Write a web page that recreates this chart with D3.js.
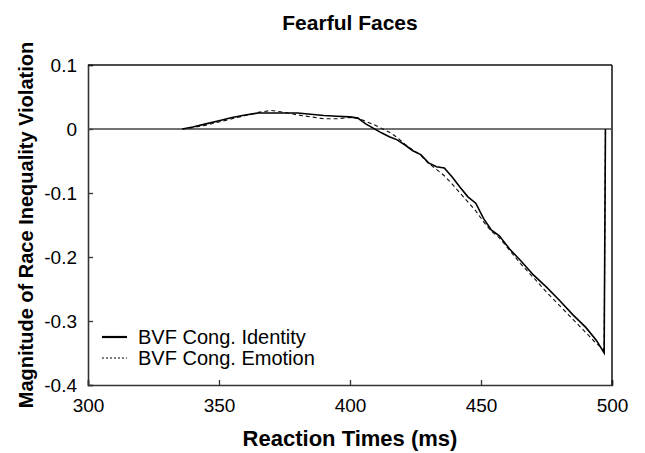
<!DOCTYPE html>
<html>
<head>
<meta charset="utf-8">
<script src="https://cdn.jsdelivr.net/npm/d3@7"></script>
<style>
  body { margin: 0; background: #fff; }
  svg text { font-family: "Liberation Sans", Arial, sans-serif; fill: #000; }
</style>
</head>
<body>
<div id="chart"></div>
<script>
//Canvas dimensions and margins
var width = 645,
    height = 453;

var margin = {
    top: 65,
    bottom: 68,
    left: 88,
    right: 33
};

//Data (reaction time bins in ms)
var times = [336, 340, 345, 350, 355, 360, 365, 370, 375, 380, 385, 390, 395, 400, 403, 406,
             409, 412, 415, 418, 421, 424, 427, 430, 433, 436, 439, 442, 445, 448, 451, 454,
             457, 461, 465, 470, 475, 480, 485, 490, 494, 497, 497.5];

var identityValues = [0, 0.003, 0.008, 0.013, 0.018, 0.022, 0.025, 0.025, 0.025, 0.025, 0.023, 0.021, 0.020, 0.019, 0.017, 0.008,
                      0.001, -0.006, -0.012, -0.017, -0.025, -0.034, -0.040, -0.053, -0.059, -0.061, -0.075, -0.091, -0.106, -0.116, -0.140, -0.158,
                      -0.167, -0.188, -0.205, -0.228, -0.247, -0.268, -0.290, -0.310, -0.330, -0.350, 0];

var emotionValues = [0, 0.002, 0.006, 0.011, 0.016, 0.021, 0.026, 0.029, 0.026, 0.022, 0.019, 0.016, 0.016, 0.018, 0.017, 0.012,
                     0.007, 0.001, -0.005, -0.013, -0.024, -0.033, -0.041, -0.054, -0.063, -0.073, -0.086, -0.100, -0.114, -0.128, -0.145, -0.160,
                     -0.170, -0.190, -0.210, -0.232, -0.255, -0.276, -0.297, -0.318, -0.335, -0.345, 0];

var xTicks = [300, 350, 400, 450, 500];
var yTicks = [0.1, 0, -0.1, -0.2, -0.3, -0.4];
var seriesNames = ["BVF Cong. Identity", "BVF Cong. Emotion"];

var svg = d3.select("#chart")
            .append("svg")
            .attr("width", width)
            .attr("height", height);

//Effective drawing area
var w = width - margin.left - margin.right,
    h = height - margin.top - margin.bottom;

var g = svg.append("g")
           .attr("transform", "translate(" + margin.left + "," + margin.top + ")");

var x = d3.scaleLinear().domain([300, 500]).range([0, w]);
var y = d3.scaleLinear().domain([-0.4, 0.1]).range([h, 0]);

//Axes with inward ticks
var xAxis = g.append("g")
             .attr("transform", "translate(0," + h + ")")
             .call(d3.axisBottom(x).tickValues(xTicks).tickSize(-5).tickPadding(14).tickFormat(d3.format("d")));

var yAxis = g.append("g")
             .call(d3.axisLeft(y).tickValues(yTicks).tickSize(-5).tickPadding(11)
                   .tickFormat(function(d) { return d === 0 ? "0" : d3.format(".1f")(d).replace("−", "-"); }));

[xAxis, yAxis].forEach(function(a) {
    a.select(".domain").attr("stroke", "#333").attr("stroke-width", 1.6);
    a.selectAll(".tick line").attr("stroke", "#333").attr("stroke-width", 1.3);
    a.selectAll(".tick text").style("font-size", "19px");
});

//Frame top and right
g.append("line").attr("x1", 0).attr("x2", w).attr("y1", 0).attr("y2", 0)
 .attr("stroke", "#111").attr("stroke-width", 1.5);
g.append("line").attr("x1", w).attr("x2", w).attr("y1", 0).attr("y2", h)
 .attr("stroke", "#111").attr("stroke-width", 1.5);

//Zero reference line
g.append("line").attr("x1", 0).attr("x2", w).attr("y1", y(0)).attr("y2", y(0))
 .attr("stroke", "#444").attr("stroke-width", 1.5);

var line = d3.line()
             .x(function(d) { return x(d[0]); })
             .y(function(d) { return y(d[1]); });

var identityData = times.map(function(t, i) { return [t, identityValues[i]]; });
var emotionData = times.map(function(t, i) { return [t, emotionValues[i]]; });

g.append("path")
 .datum(emotionData)
 .attr("d", line)
 .attr("fill", "none")
 .attr("stroke", "#111")
 .attr("stroke-width", 1.1)
 .attr("stroke-dasharray", "4,3");

g.append("path")
 .datum(identityData)
 .attr("d", line)
 .attr("fill", "none")
 .attr("stroke", "#000")
 .attr("stroke-width", 1.6);

//Legend
var legend = g.append("g").attr("transform", "translate(14," + (h - 48) + ")");
seriesNames.forEach(function(name, i) {
    legend.append("line")
          .attr("x1", 0).attr("x2", 25)
          .attr("y1", i * 21).attr("y2", i * 21)
          .attr("stroke", "#000")
          .attr("stroke-width", i === 0 ? 2.2 : 1)
          .attr("stroke-dasharray", i === 0 ? null : "2,2");
    legend.append("text")
          .attr("x", 36).attr("y", i * 21 + 7)
          .style("font-size", "20px")
          .text(name);
});

//Titles
svg.append("text")
   .attr("x", margin.left + w / 2).attr("y", 30)
   .attr("text-anchor", "middle")
   .style("font-size", "21px").style("font-weight", "bold")
   .text("Fearful Faces");

svg.append("text")
   .attr("x", margin.left + w / 2).attr("y", 446)
   .attr("text-anchor", "middle")
   .style("font-size", "22px").style("font-weight", "bold")
   .text("Reaction Times (ms)");

svg.append("text")
   .attr("transform", "translate(33," + (margin.top + h / 2) + ") rotate(-90)")
   .attr("text-anchor", "middle")
   .style("font-size", "20px").style("font-weight", "bold")
   .text("Magnitude of Race Inequality Violation");
</script>
</body>
</html>
